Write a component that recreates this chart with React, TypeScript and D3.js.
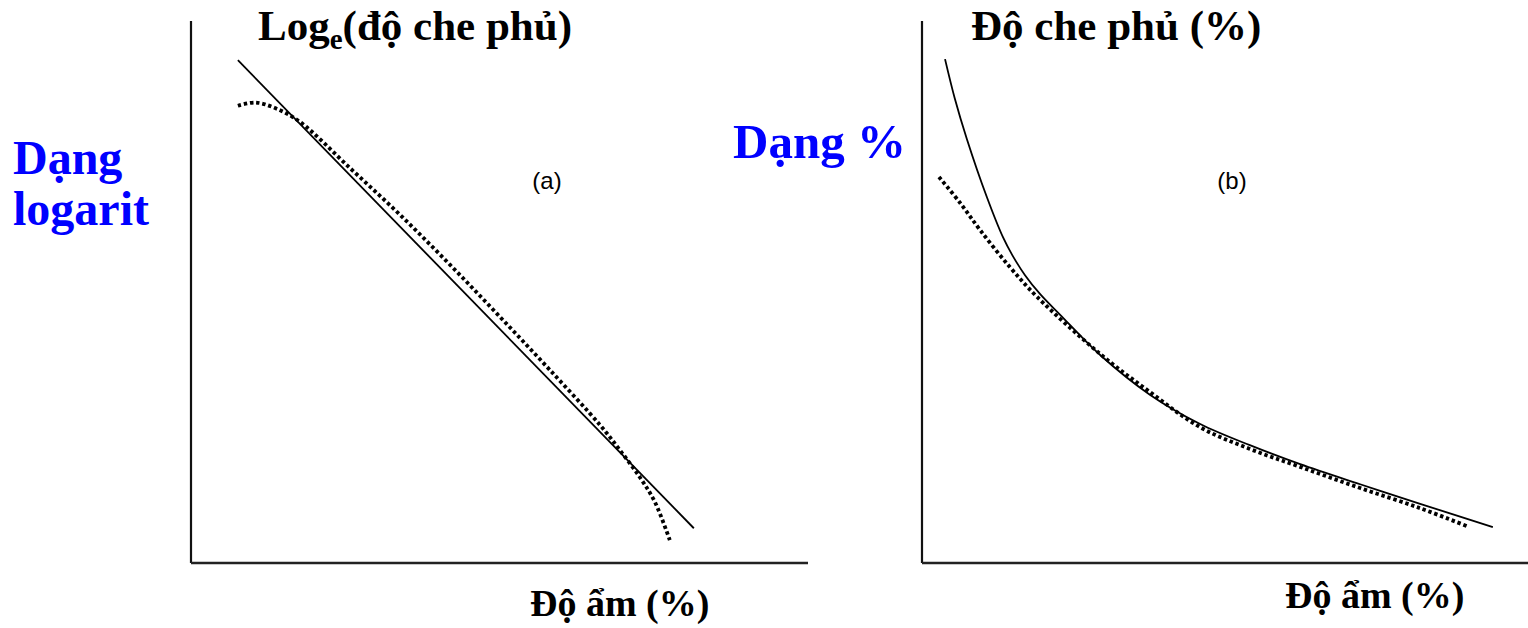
import { useMemo } from "react";
import * as d3 from "d3";

const WIDTH = 1528;
const HEIGHT = 628;

// Panel (a): log form — moisture vs log of cover
const A_LINE_X = [7.6, 81.5];
const A_LINE_Y = [92.6, 6.4];
const A_DOT_X = [7.6, 10.4, 13.6, 17.7, 25.8, 33.9, 42.0, 50.1, 58.2, 66.3, 69.5, 72.8, 75.2, 77.6];
const A_DOT_Y = [84.2, 84.8, 83.8, 81.2, 72.7, 64.1, 54.9, 45.3, 35.5, 25.4, 20.8, 15.7, 11.2, 4.2];

// Panel (b): percent form — moisture vs cover %
const B_LINE_X = [3.8, 5.4, 7.4, 10.7, 13.4, 14.9, 17.0, 19.5, 22.8, 29.4, 37.6, 45.9, 54.1, 62.4, 72.3, 82.2, 94.2];
const B_LINE_Y = [92.8, 85.6, 78.1, 67.4, 59.9, 56.7, 53.0, 49.5, 45.7, 38.3, 31.0, 25.6, 21.7, 18.2, 14.5, 10.9, 6.6];
const B_DOT_X = [2.8, 6.3, 9.6, 14.5, 19.0, 29.4, 37.6, 45.9, 54.1, 62.4, 72.3, 82.2, 89.9];
const B_DOT_Y = [71.1, 66.3, 61.3, 54.5, 49.0, 38.5, 31.5, 25.0, 21.0, 17.7, 13.8, 10.1, 6.8];

const SERIF = "'Liberation Serif', 'Times New Roman', serif";
const SANS = "'Liberation Sans', Arial, sans-serif";
const BLUE = "#0000FF";

function zip(xs: number[], ys: number[]): [number, number][] {
  return xs.map((x, i) => [x, ys[i]]);
}

type PanelProps = {
  left: number;
  right: number;
  span: number;
  lineX: number[];
  lineY: number[];
  dotX: number[];
  dotY: number[];
  curved: boolean;
};

function Panel({ left, right, span, lineX, lineY, dotX, dotY, curved }: PanelProps) {
  const top = 21;
  const bottom = 563;

  const x = useMemo(() => d3.scaleLinear().domain([0, 100]).range([left, left + span]), [left, span]);
  const y = useMemo(() => d3.scaleLinear().domain([0, 100]).range([bottom, bottom - 543]), []);

  const smooth = d3.curveCatmullRom.alpha(0.5);

  const solid = d3
    .line<[number, number]>()
    .x((d) => x(d[0]))
    .y((d) => y(d[1]))
    .curve(curved ? smooth : d3.curveLinear)(zip(lineX, lineY)) ?? "";

  const dotted = d3
    .line<[number, number]>()
    .x((d) => x(d[0]))
    .y((d) => y(d[1]))
    .curve(smooth)(zip(dotX, dotY)) ?? "";

  return (
    <g>
      <line x1={left} x2={left} y1={top} y2={bottom} stroke="#111" strokeWidth={2.2} />
      <line x1={left} x2={right} y1={bottom} y2={bottom} stroke="#222" strokeWidth={2.5} />
      <path d={solid} fill="none" stroke="#000" strokeWidth={1.8} />
      <path d={dotted} fill="none" stroke="#000" strokeWidth={3.8} strokeDasharray="3.4 2.8" />
    </g>
  );
}

export default function App() {
  return (
    <svg
      width={WIDTH}
      height={HEIGHT}
      viewBox={`0 0 ${WIDTH} ${HEIGHT}`}
      style={{ position: "absolute", left: 0, top: 0, background: "#fff" }}
    >
      <rect width={WIDTH} height={HEIGHT} fill="#fff" />

      <Panel left={191} right={808} span={617} lineX={A_LINE_X} lineY={A_LINE_Y} dotX={A_DOT_X} dotY={A_DOT_Y} curved={false} />
      <Panel left={922} right={1528} span={606} lineX={B_LINE_X} lineY={B_LINE_Y} dotX={B_DOT_X} dotY={B_DOT_Y} curved />

      <text x={258} y={40} fontFamily={SERIF} fontWeight="bold" fontSize={43} fill="#000">
        Log
        <tspan fontSize={29} dy={9}>e</tspan>
        <tspan dy={-9}>(độ che phủ)</tspan>
      </text>
      <text x={971} y={40} fontFamily={SERIF} fontWeight="bold" fontSize={43} fill="#000">
        Độ che phủ (%)
      </text>

      <text x={13} y={174} fontFamily={SERIF} fontWeight="bold" fontSize={48} fill={BLUE}>
        Dạng
      </text>
      <text x={13} y={225} fontFamily={SERIF} fontWeight="bold" fontSize={48} fill={BLUE}>
        logarit
      </text>
      <text x={733} y={158} fontFamily={SERIF} fontWeight="bold" fontSize={49} fill={BLUE}>
        Dạng %
      </text>

      <text x={547} y={189} textAnchor="middle" fontFamily={SANS} fontSize={24} fill="#000">
        (a)
      </text>
      <text x={1232} y={189} textAnchor="middle" fontFamily={SANS} fontSize={24} fill="#000">
        (b)
      </text>

      <text x={530} y={616} fontFamily={SERIF} fontWeight="bold" fontSize={38} fill="#000">
        Độ ẩm (%)
      </text>
      <text x={1285} y={608} fontFamily={SERIF} fontWeight="bold" fontSize={38} fill="#000">
        Độ ẩm (%)
      </text>
    </svg>
  );
}
